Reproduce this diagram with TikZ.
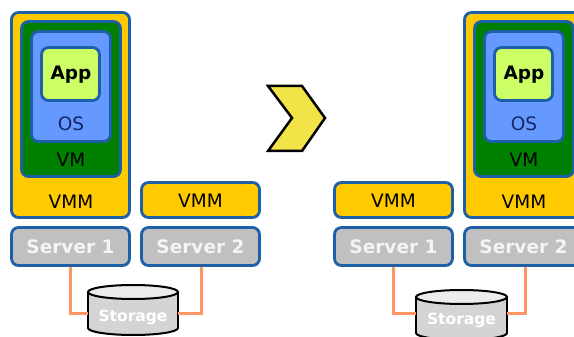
\documentclass[tikz,border=0pt]{standalone}
\usepackage{fontspec}
\setmainfont{DejaVu Sans}
\definecolor{bord}{RGB}{30,96,168}
\definecolor{vmmY}{RGB}{255,202,0}
\definecolor{vmG}{RGB}{0,128,0}
\definecolor{osB}{RGB}{102,153,255}
\definecolor{appG}{RGB}{204,255,102}
\definecolor{srvG}{RGB}{192,192,192}
\definecolor{storG}{RGB}{212,212,212}
\definecolor{storT}{RGB}{236,236,236}
\definecolor{linkO}{RGB}{255,150,100}
\definecolor{chev}{RGB}{242,228,72}
\definecolor{osT}{RGB}{20,36,100}
\definecolor{srvT}{RGB}{244,244,244}
\tikzset{
  box/.style={draw=bord, line width=2.8pt, rounded corners=7pt, inner sep=0pt},
  lbl/.style={inner sep=0pt, font=\fontsize{18.5}{20}\selectfont, text=black},
  blbl/.style={inner sep=0pt, font=\fontsize{18.5}{20}\selectfont\bfseries},
  srvlbl/.style={inner sep=0pt, font=\fontsize{18.5}{20}\selectfont\bfseries, text=srvT},
  slbl/.style={inner sep=0pt, font=\fontsize{15.5}{17}\selectfont\bfseries, text=white},
  link/.style={draw=linkO, line width=3pt},
  cyl/.style={draw=black, line width=2pt},
}
\begin{document}
\begin{tikzpicture}[x=1pt, y=-1pt]
\useasboundingbox[fill=white] (0,0) rectangle (574,337);
% ---------- left ----------
\node[box, fill=vmmY, minimum width=118pt, minimum height=205pt] (bigL) at (70.5,115) {};
\node[box, fill=vmG, minimum width=99pt, minimum height=155pt] (vmL) at (71,99) {};
\node[box, fill=osB, minimum width=79pt, minimum height=110pt] (osL) at (71,86.5) {};
\node[box, fill=appG, minimum width=58pt, minimum height=53pt] (appL) at (70.5,74) {};
\node[blbl] (appLt) at (71,75) {App};
\node[lbl, text=osT] (osLt) at (71,124) {OS};
\node[lbl] (vmLt) at (71,160) {VM};
\node[lbl] (vmmLt) at (71,202) {VMM};
\node[box, fill=vmmY, minimum width=118pt, minimum height=35pt] (vmm2L) at (200.5,200) {};
\node[lbl] (vmm2Lt) at (200.5,201) {VMM};
\node[box, fill=srvG, minimum width=118pt, minimum height=38pt] (srv1L) at (70.5,246.5) {};
\node[srvlbl] (srv1Lt) at (70.5,247) {Server 1};
\node[box, fill=srvG, minimum width=118pt, minimum height=38pt] (srv2L) at (200.5,246.5) {};
\node[srvlbl] (srv2Lt) at (200.5,247) {Server 2};
% storage left
\draw[cyl, fill=storG] (133,328) ellipse [x radius=45, y radius=7];
\fill[storG] (88,292) rectangle (178,328);
\draw[cyl] (88,292) -- (88,328) (178,292) -- (178,328);
\draw[cyl, fill=storT] (133,292) ellipse [x radius=45, y radius=7];
\node[inner sep=0pt, minimum width=90pt, minimum height=0pt] (storL) at (133,313) {};
\node[slbl] (storLt) at (133,317) {Storage};
\draw[link] (srv1L.south) |- (storL.west);
\draw[link] ([xshift=0.5pt]srv2L.south) |- (storL.east);
% ---------- chevron ----------
\draw[line width=2.5pt, fill=chev, line join=miter] (268,86) -- (302,86) -- (325,118) -- (302,151) -- (268,151) -- (292,118) -- cycle;
% ---------- right ----------
\node[box, fill=vmmY, minimum width=118pt, minimum height=35pt] (vmm1R) at (393.5,200) {};
\node[lbl] (vmm1Rt) at (393.5,201) {VMM};
\node[box, fill=srvG, minimum width=118pt, minimum height=38pt] (srv1R) at (393.5,246.5) {};
\node[srvlbl] (srv1Rt) at (393.5,247) {Server 1};
\node[box, fill=vmmY, minimum width=118pt, minimum height=205pt] (bigR) at (523.5,115) {};
\node[box, fill=vmG, minimum width=99pt, minimum height=155pt] (vmR) at (524,99) {};
\node[box, fill=osB, minimum width=79pt, minimum height=110pt] (osR) at (524,86.5) {};
\node[box, fill=appG, minimum width=58pt, minimum height=53pt] (appR) at (523.5,74) {};
\node[blbl] (appRt) at (524,75) {App};
\node[lbl, text=osT] (osRt) at (524,124) {OS};
\node[lbl] (vmRt) at (524,160) {VM};
\node[lbl] (vmmRt) at (524,202) {VMM};
\node[box, fill=srvG, minimum width=118pt, minimum height=38pt] (srv2R) at (523.5,246.5) {};
\node[srvlbl] (srv2Rt) at (523.5,247) {Server 2};
% storage right
\draw[cyl, fill=storG] (461.5,333) ellipse [x radius=45.5, y radius=7];
\fill[storG] (416,297) rectangle (507,333);
\draw[cyl] (416,297) -- (416,333) (507,297) -- (507,333);
\draw[cyl, fill=storT] (461.5,297) ellipse [x radius=45.5, y radius=7];
\node[inner sep=0pt, minimum width=91pt, minimum height=0pt] (storR) at (461.5,313) {};
\node[slbl] (storRt) at (461.5,320) {Storage};
\draw[link] (srv1R.south) |- (storR.west);
\draw[link] ([xshift=1.5pt]srv2R.south) |- (storR.east);
\end{tikzpicture}
\end{document}
